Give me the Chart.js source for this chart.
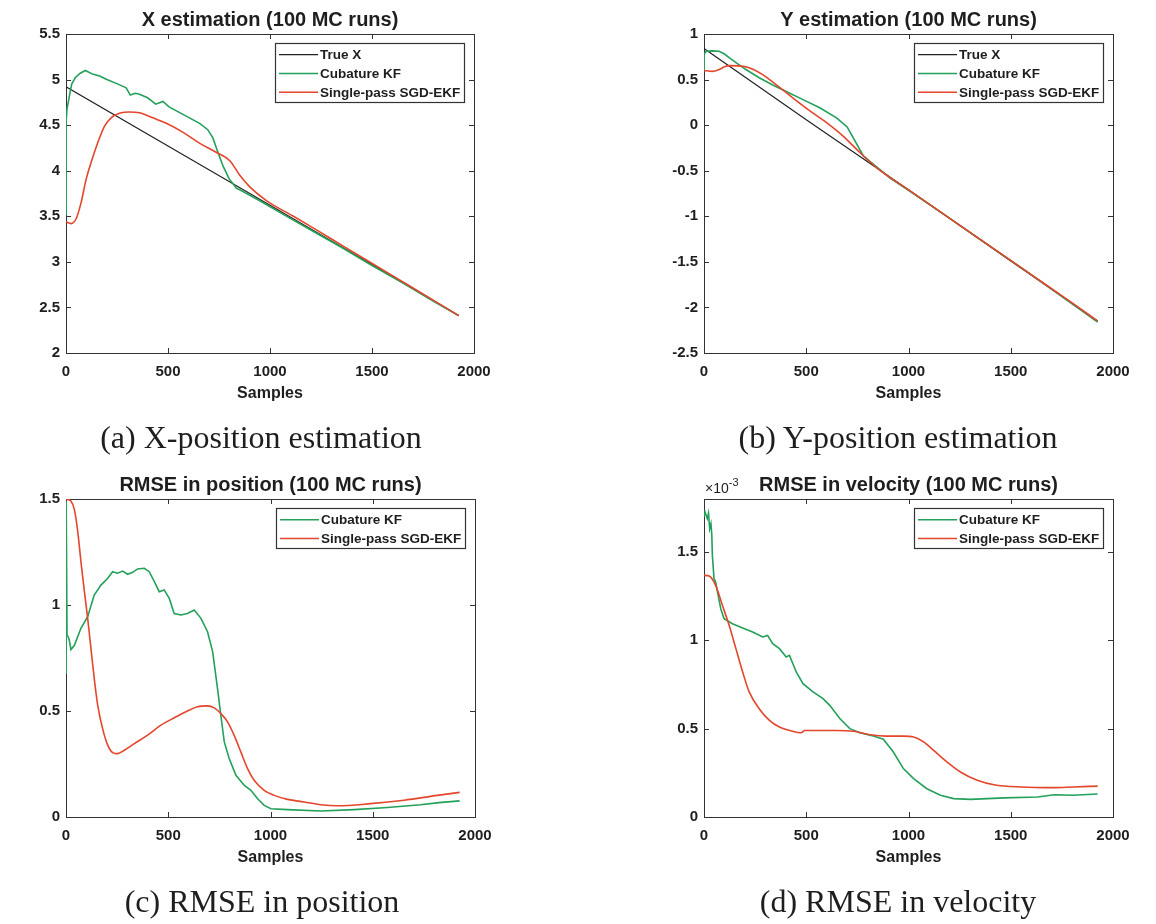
<!DOCTYPE html>
<html>
<head>
<meta charset="utf-8">
<title>Position and velocity estimation (100 MC runs)</title>
<script src="https://cdn.jsdelivr.net/npm/chart.js@4.4.1/dist/chart.umd.min.js"></script>
<style>
  body { margin: 0; background: #fff; }
  #page { position: relative; width: 1156px; height: 924px; overflow: hidden; background: #fff; }
  canvas { position: absolute; }
  .caption {
    position: absolute; width: 578px; text-align: center;
    font-family: 'Liberation Serif', 'DejaVu Serif', serif;
    font-size: 32px; line-height: 32px; color: #1e1e1e; white-space: nowrap;
  }
</style>
</head>
<body>
<div id="page">
  <canvas id="chart-a" width="578" height="420" style="left:0;top:0"></canvas>
  <canvas id="chart-b" width="578" height="420" style="left:578px;top:0"></canvas>
  <canvas id="chart-c" width="578" height="419" style="left:0;top:465px"></canvas>
  <canvas id="chart-d" width="578" height="419" style="left:578px;top:465px"></canvas>
  <div class="caption" style="left:-28px;top:421px">(a) X-position estimation</div>
  <div class="caption" style="left:609px;top:421px">(b) Y-position estimation</div>
  <div class="caption" style="left:-27px;top:885px">(c) RMSE in position</div>
  <div class="caption" style="left:609px;top:885px">(d) RMSE in velocity</div>
</div>
<script>
// series labels
const labelTrue = 'True X';
const labelCkf = 'Cubature KF';
const labelSgd = 'Single-pass SGD-EKF';

const sampleTicks = [0, 500, 1000, 1500, 2000];

// (a) X estimation
const trueXSamples = [0, 500, 1000, 1500, 1925];
const trueX = [4.92, 4.27, 3.62, 2.97, 2.41];
const ckfXSamples = [0, 1, 5, 15, 28, 45, 70, 95, 130, 165, 200, 255, 295, 315, 340, 360, 400, 440, 475, 505, 555, 605, 655, 695, 720, 745, 770, 800, 835, 870, 950, 1050, 1200, 1350, 1500, 1650, 1800, 1925];
const ckfX = [3.52, 4.55, 4.68, 4.80, 4.95, 5.02, 5.07, 5.10, 5.06, 5.04, 5.00, 4.95, 4.91, 4.83, 4.85, 4.84, 4.80, 4.73, 4.76, 4.70, 4.64, 4.58, 4.52, 4.45, 4.36, 4.20, 4.05, 3.91, 3.81, 3.77, 3.67, 3.54, 3.35, 3.16, 2.96, 2.77, 2.57, 2.41];
const sgdXSamples = [0, 25, 49, 74, 98, 123, 156, 189, 221, 262, 311, 361, 426, 492, 574, 656, 738, 803, 852, 902, 984, 1115, 1213, 1361, 1525, 1689, 1925];
const sgdX = [3.44, 3.42, 3.47, 3.65, 3.90, 4.09, 4.31, 4.49, 4.58, 4.63, 4.645, 4.635, 4.58, 4.52, 4.42, 4.30, 4.20, 4.11, 3.95, 3.82, 3.67, 3.50, 3.37, 3.17, 2.95, 2.73, 2.41];

// (b) Y estimation
const trueYSamples = [0, 500, 1000, 1500, 1925];
const trueY = [0.84, 0.06, -0.71, -1.49, -2.15];
const ckfYSamples = [0, 1, 10, 40, 74, 100, 123, 160, 205, 270, 336, 402, 484, 566, 648, 700, 730, 780, 850, 910, 1000, 1200, 1400, 1600, 1800, 1925];
const ckfY = [0.61, 0.78, 0.81, 0.815, 0.81, 0.78, 0.74, 0.68, 0.61, 0.52, 0.44, 0.37, 0.28, 0.19, 0.08, -0.02, -0.14, -0.34, -0.47, -0.58, -0.715, -1.02, -1.33, -1.64, -1.96, -2.16];
const sgdYSamples = [0, 41, 74, 100, 123, 172, 221, 287, 352, 434, 516, 598, 680, 762, 844, 910, 1000, 1200, 1400, 1600, 1800, 1925];
const sgdY = [0.60, 0.59, 0.61, 0.64, 0.653, 0.65, 0.63, 0.555, 0.445, 0.30, 0.16, 0.03, -0.12, -0.30, -0.465, -0.575, -0.71, -1.02, -1.33, -1.64, -1.95, -2.15];

// (c) RMSE in position
const ckfPosSamples = [0, 1, 5, 15, 24, 41, 73, 106, 138, 171, 204, 228, 252, 277, 301, 326, 350, 383, 407, 432, 456, 480, 505, 529, 562, 594, 627, 660, 692, 717, 741, 757, 774, 798, 831, 871, 904, 936, 969, 1002, 1083, 1246, 1409, 1572, 1734, 1824, 1925];
const ckfPos = [0.68, 1.49, 0.86, 0.84, 0.79, 0.81, 0.89, 0.945, 1.047, 1.094, 1.126, 1.157, 1.15, 1.16, 1.145, 1.154, 1.17, 1.173, 1.157, 1.11, 1.063, 1.071, 1.031, 0.96, 0.953, 0.96, 0.976, 0.937, 0.874, 0.78, 0.606, 0.48, 0.354, 0.276, 0.197, 0.15, 0.126, 0.087, 0.055, 0.039, 0.035, 0.028, 0.035, 0.045, 0.058, 0.068, 0.076];
const sgdPosSamples = [0, 24, 41, 57, 73, 90, 106, 122, 138, 155, 179, 204, 228, 252, 285, 334, 399, 464, 529, 594, 643, 692, 725, 757, 790, 822, 855, 888, 920, 969, 1018, 1083, 1164, 1246, 1327, 1490, 1653, 1816, 1925];
const sgdPos = [1.50, 1.49, 1.45, 1.35, 1.205, 1.063, 0.937, 0.795, 0.654, 0.528, 0.417, 0.339, 0.304, 0.299, 0.315, 0.346, 0.386, 0.433, 0.468, 0.50, 0.52, 0.524, 0.515, 0.488, 0.449, 0.386, 0.307, 0.228, 0.173, 0.126, 0.102, 0.083, 0.071, 0.058, 0.053, 0.063, 0.079, 0.102, 0.116];

// (d) RMSE in velocity, values in units of 1e-3
const ckfVelSamples = [0, 5, 16, 22, 28, 34, 38, 41, 49, 57, 66, 82, 98, 139, 189, 238, 287, 311, 336, 369, 402, 418, 451, 484, 533, 582, 615, 664, 713, 762, 828, 877, 926, 975, 1025, 1090, 1156, 1221, 1303, 1467, 1631, 1713, 1803, 1925];
const ckfVel = [1.70, 1.726, 1.689, 1.72, 1.632, 1.66, 1.60, 1.48, 1.349, 1.33, 1.274, 1.179, 1.123, 1.094, 1.07, 1.047, 1.019, 1.028, 0.981, 0.953, 0.906, 0.915, 0.821, 0.755, 0.708, 0.67, 0.632, 0.557, 0.50, 0.477, 0.458, 0.44, 0.368, 0.274, 0.217, 0.16, 0.123, 0.104, 0.10, 0.108, 0.113, 0.126, 0.123, 0.13];
const sgdVelSamples = [0, 25, 57, 90, 123, 156, 189, 221, 270, 320, 369, 434, 475, 492, 566, 648, 730, 811, 893, 975, 1025, 1074, 1123, 1189, 1254, 1336, 1418, 1549, 1713, 1803, 1925];
const sgdVel = [1.368, 1.364, 1.311, 1.198, 1.085, 0.953, 0.821, 0.708, 0.613, 0.547, 0.509, 0.485, 0.477, 0.49, 0.49, 0.49, 0.485, 0.466, 0.458, 0.458, 0.453, 0.425, 0.377, 0.311, 0.255, 0.208, 0.183, 0.17, 0.166, 0.17, 0.175];

const colorTrue = '#222222';
const colorCkf = '#23a05a';
const colorSgd = '#e4462c';
const textColor = '#1e1e1e';
const sansFont = "'Liberation Sans', Arial, sans-serif";

function pts(xs, ys) {
  return xs.map((x, i) => ({ x: x, y: ys[i] }));
}

function series(label, xs, ys, color, order, smooth) {
  return {
    label: label,
    data: pts(xs, ys),
    borderColor: color,
    borderWidth: label === labelTrue ? 1.2 : 1.6,
    pointRadius: 0,
    fill: false,
    order: order,
    cubicInterpolationMode: smooth ? 'monotone' : 'default',
    tension: 0
  };
}

// MATLAB-like box with inward ticks on all sides, lines drawn over it
const boxFrame = {
  id: 'boxFrame',
  beforeDatasetsDraw(chart) {
    const { ctx, chartArea: a, scales } = chart;
    ctx.save();
    ctx.strokeStyle = '#333';
    ctx.lineWidth = 1;
    ctx.strokeRect(Math.round(a.left) + 0.5, Math.round(a.top) + 0.5, Math.round(a.right - a.left), Math.round(a.bottom - a.top));
    ctx.beginPath();
    scales.x.ticks.forEach(t => {
      const px = Math.round(scales.x.getPixelForValue(t.value)) + 0.5;
      ctx.moveTo(px, a.bottom); ctx.lineTo(px, a.bottom - 5);
      ctx.moveTo(px, a.top); ctx.lineTo(px, a.top + 5);
    });
    scales.y.ticks.forEach(t => {
      const py = Math.round(scales.y.getPixelForValue(t.value)) + 0.5;
      ctx.moveTo(a.left, py); ctx.lineTo(a.left + 5, py);
      ctx.moveTo(a.right, py); ctx.lineTo(a.right - 5, py);
    });
    ctx.stroke();
    ctx.restore();
  }
};

// legend box drawn inside the axes, top right
const boxLegend = {
  id: 'boxLegend',
  afterDraw(chart) {
    const { ctx, chartArea: a } = chart;
    const sets = chart.data.datasets;
    const rowH = 18.8;
    const w = 189;
    const h = 11.7 + (sets.length - 1) * rowH + 9.5;
    const x = Math.round(a.right - 10 - w);
    const y = Math.round(a.top + 9);
    ctx.save();
    ctx.fillStyle = '#fff';
    ctx.fillRect(x, y, w, h);
    ctx.strokeStyle = '#333';
    ctx.lineWidth = 1.2;
    ctx.strokeRect(x + 0.5, y + 0.5, w, Math.round(h));
    ctx.font = 'bold 13.5px ' + sansFont;
    ctx.textBaseline = 'middle';
    sets.forEach((ds, i) => {
      const cy = y + 11.7 + i * rowH;
      ctx.strokeStyle = ds.borderColor;
      ctx.lineWidth = ds.borderWidth;
      ctx.beginPath();
      ctx.moveTo(x + 4, cy);
      ctx.lineTo(x + 43, cy);
      ctx.stroke();
      ctx.fillStyle = textColor;
      ctx.fillText(ds.label, x + 45, cy + 1);
    });
    ctx.restore();
  }
};

// x10^-3 exponent label for the velocity plot
const exponentLabel = {
  id: 'exponentLabel',
  afterDraw(chart, args, opts) {
    if (!opts.text) return;
    const { ctx, chartArea: a } = chart;
    ctx.save();
    ctx.fillStyle = textColor;
    ctx.textBaseline = 'alphabetic';
    ctx.font = '14px ' + sansFont;
    const base = '\u00d710';
    ctx.fillText(base, a.left + 1, a.top - 6);
    const bw = ctx.measureText(base).width;
    ctx.font = '11px ' + sansFont;
    ctx.fillText(opts.text, a.left + 1 + bw, a.top - 13);
    ctx.restore();
  }
};

function buildChart(id, cfg) {
  const ctx = document.getElementById(id).getContext('2d');
  return new Chart(ctx, {
    type: 'line',
    data: { datasets: cfg.datasets },
    options: {
      responsive: false,
      animation: false,
      events: [],
      layout: { padding: { left: 0, top: 0, right: cfg.padRight, bottom: 17 } },
      plugins: {
        legend: { display: false },
        tooltip: { enabled: false },
        title: {
          display: true,
          fullSize: false,
          text: cfg.title,
          color: textColor,
          font: { family: sansFont, size: 20, weight: 'bold', lineHeight: '24px' },
          padding: { top: 8, bottom: 2 }
        },
        exponentLabel: { text: cfg.exponent || '' }
      },
      scales: {
        x: {
          type: 'linear',
          min: 0,
          max: 2000,
          afterFit: scale => { scale.height = 50; },
          afterBuildTicks: scale => { scale.ticks = sampleTicks.map(v => ({ value: v })); },
          grid: { display: false, drawTicks: false },
          border: { display: false },
          ticks: {
            autoSkip: false,
            maxRotation: 0,
            padding: 10,
            color: textColor,
            font: { family: sansFont, size: 15, weight: 'bold' },
            callback: v => String(v)
          },
          title: {
            display: true,
            text: 'Samples',
            color: textColor,
            padding: 0,
            font: { family: sansFont, size: 16, weight: 'bold' }
          }
        },
        y: {
          type: 'linear',
          min: cfg.yMin,
          max: cfg.yMax,
          afterFit: scale => { scale.width = cfg.axisWidth; },
          grid: { display: false, drawTicks: false },
          border: { display: false },
          ticks: {
            stepSize: 0.5,
            includeBounds: false,
            padding: 6,
            color: textColor,
            font: { family: sansFont, size: 15, weight: 'bold' },
            callback: v => String(+v.toFixed(2))
          }
        }
      }
    },
    plugins: [boxFrame, boxLegend, exponentLabel]
  });
}

buildChart('chart-a', {
  title: 'X estimation (100 MC runs)',
  yMin: 2, yMax: 5.5, axisWidth: 66, padRight: 104,
  datasets: [
    series(labelTrue, trueXSamples, trueX, colorTrue, 2, false),
    series(labelCkf, ckfXSamples, ckfX, colorCkf, 1, false),
    series(labelSgd, sgdXSamples, sgdX, colorSgd, 0, true)
  ]
});

buildChart('chart-b', {
  title: 'Y estimation (100 MC runs)',
  yMin: -2.5, yMax: 1, axisWidth: 126, padRight: 43,
  datasets: [
    series(labelTrue, trueYSamples, trueY, colorTrue, 2, false),
    series(labelCkf, ckfYSamples, ckfY, colorCkf, 1, false),
    series(labelSgd, sgdYSamples, sgdY, colorSgd, 0, true)
  ]
});

buildChart('chart-c', {
  title: 'RMSE in position (100 MC runs)',
  yMin: 0, yMax: 1.5, axisWidth: 66, padRight: 103,
  datasets: [
    series(labelCkf, ckfPosSamples, ckfPos, colorCkf, 1, false),
    series(labelSgd, sgdPosSamples, sgdPos, colorSgd, 0, true)
  ]
});

buildChart('chart-d', {
  title: 'RMSE in velocity (100 MC runs)',
  yMin: 0, yMax: 1.8, axisWidth: 126, padRight: 43,
  exponent: '-3',
  datasets: [
    series(labelCkf, ckfVelSamples, ckfVel, colorCkf, 1, false),
    series(labelSgd, sgdVelSamples, sgdVel, colorSgd, 0, true)
  ]
});
</script>
</body>
</html>
